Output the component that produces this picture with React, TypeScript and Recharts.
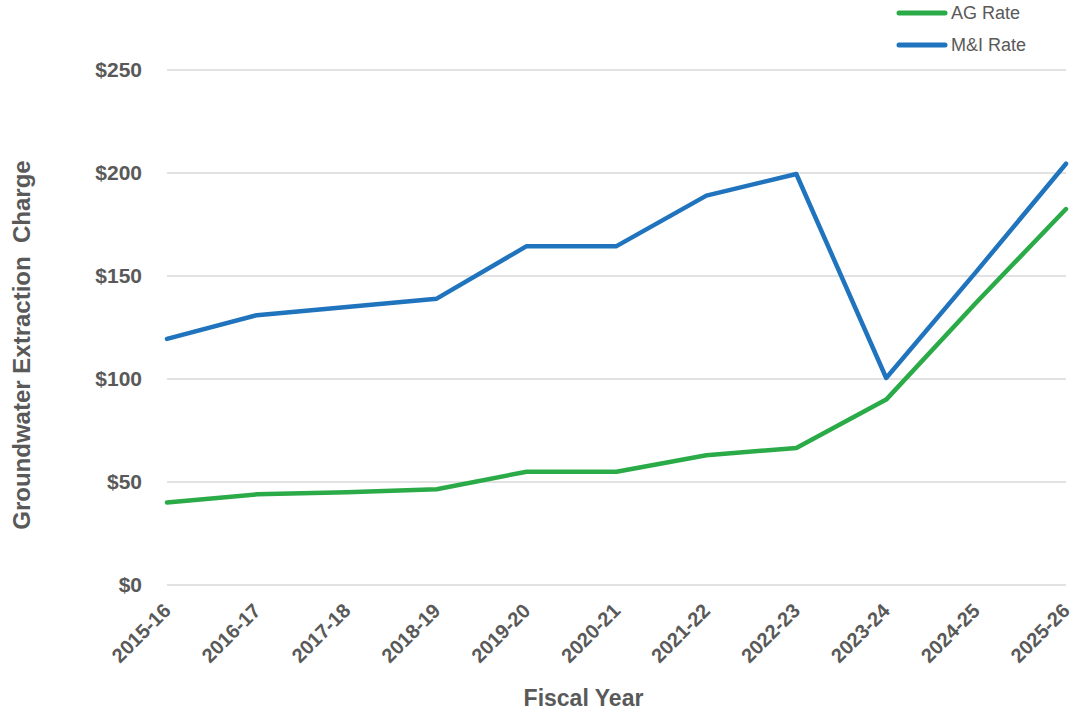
import React from 'react';
import { LineChart, Line, XAxis, YAxis, CartesianGrid, Legend } from 'recharts';

const years = ['2015-16', '2016-17', '2017-18', '2018-19', '2019-20', '2020-21', '2021-22', '2022-23', '2023-24', '2024-25', '2025-26'];
const agRate = [40, 44, 45, 46.5, 55, 55, 63, 66.5, 90, 137, 182.5];
const miRate = [119.5, 131, 135, 139, 164.5, 164.5, 189, 199.5, 100.5, 152, 204.5];
const yTicks = [0, 50, 100, 150, 200, 250];

const data = years.map((year, i) => ({ year, ag: agRate[i], mi: miRate[i] }));

const FONT = '"Liberation Sans", Arial, sans-serif';
const GREY = '#595959';

const XTick = ({ x, payload }: any) => (
  <text
    x={x + 5}
    y={612}
    transform={`rotate(-45 ${x + 5} 612)`}
    textAnchor="end"
    fontFamily={FONT}
    fontWeight="bold"
    fontSize={20}
    fill={GREY}
  >
    {payload.value}
  </text>
);

const renderLegend = ({ payload }: any) => (
  <div style={{ fontFamily: FONT, fontSize: 18, color: GREY }}>
    {payload.map((entry: any) => (
      <div key={entry.value} style={{ display: 'flex', alignItems: 'center', height: 32 }}>
        <svg width={54} height={8} style={{ marginRight: 2 }}>
          <line x1={4} y1={4} x2={50} y2={4} stroke={entry.color} strokeWidth={5} strokeLinecap="round" />
        </svg>
        <span>{entry.value}</span>
      </div>
    ))}
  </div>
);

const YLabel = () => (
  <text
    x={21}
    y={345}
    transform="rotate(-90 21 345)"
    textAnchor="middle"
    dominantBaseline="central"
    fontFamily={FONT}
    fontWeight="bold"
    fontSize={24}
    fill={GREY}
    style={{ whiteSpace: 'pre' }}
  >
    Groundwater Extraction  Charge
  </text>
);

const App: React.FC = () => (
  <div style={{ position: 'absolute', left: 0, top: 0, background: '#fff' }}>
    <LineChart width={1075} height={717} data={data} margin={{ top: 70, right: 9, left: 0, bottom: 0 }}>
      <CartesianGrid vertical={false} stroke="#d9d9d9" strokeWidth={1.5} />
      <XAxis
        dataKey="year"
        height={132}
        interval={0}
        tickLine={false}
        axisLine={false}
        tick={<XTick />}
        label={{
          value: 'Fiscal Year',
          position: 'insideBottom',
          offset: 11,
          dx: -33,
          style: { fontFamily: FONT, fontWeight: 'bold', fontSize: 23, fill: GREY },
        }}
      />
      <YAxis
        width={167}
        domain={[0, 250]}
        ticks={yTicks}
        tickFormatter={(v: number) => `$${v}`}
        tickLine={false}
        axisLine={false}
        tickSize={0}
        tickMargin={25}
        tick={{ fontFamily: FONT, fontWeight: 'bold', fontSize: 21, fill: GREY }}
        label={<YLabel />}
      />
      <Legend
        content={renderLegend}
        layout="horizontal"
        verticalAlign="middle"
        align="center"
        wrapperStyle={{ top: -3, left: 895, right: 'auto', width: 180 }}
      />
      <Line
        type="linear"
        dataKey="ag"
        name="AG Rate"
        stroke="#2aab48"
        strokeWidth={4.5}
        dot={false}
        strokeLinejoin="round"
        strokeLinecap="round"
        isAnimationActive={false}
      />
      <Line
        type="linear"
        dataKey="mi"
        name="M&I Rate"
        stroke="#1f74bd"
        strokeWidth={4.5}
        dot={false}
        strokeLinejoin="round"
        strokeLinecap="round"
        isAnimationActive={false}
      />
    </LineChart>
  </div>
);

export default App;
